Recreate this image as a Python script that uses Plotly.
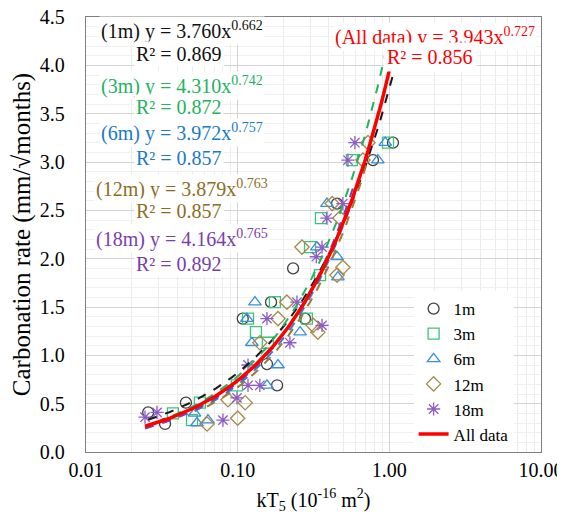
import numpy as np
import plotly.graph_objects as go

# kT5 (10^-16 m2) against carbonation rate
x_1m = [0.0257, 0.0332, 0.0456, 0.108, 0.166, 0.156, 0.182, 0.278, 0.232, 0.452, 0.78, 1.057]
y_1m = [0.41, 0.29, 0.51, 1.38, 1.55, 0.91, 0.69, 1.38, 1.90, 2.57, 3.02, 3.20]

x_3m = [0.0374, 0.050, 0.0564, 0.099, 0.117, 0.132, 0.176, 0.158, 0.286, 0.300, 0.354, 0.349, 0.5665, 0.98]
y_3m = [0.40, 0.33, 0.51, 0.69, 1.38, 1.24, 1.55, 1.13, 1.38, 2.12, 2.42, 1.83, 3.02, 3.20]

x_6m = [0.052, 0.0637, 0.0539, 0.124, 0.115, 0.130, 0.156, 0.1845, 0.258, 0.333, 0.452, 0.458, 0.388, 0.84, 0.94]
y_6m = [0.40, 0.33, 0.30, 1.13, 1.38, 1.55, 0.69, 0.90, 1.24, 2.12, 2.02, 1.81, 2.57, 3.02, 3.20]

x_12m = [0.0628, 0.100, 0.112, 0.0863, 0.140, 0.1845, 0.211, 0.338, 0.315, 0.2655, 0.494, 0.452, 0.42, 0.472, 0.67, 0.723]
y_12m = [0.29, 0.35, 0.51, 0.54, 1.13, 1.38, 1.55, 1.24, 1.31, 2.12, 1.91, 1.83, 2.57, 2.42, 3.02, 3.20]

x_18m = [0.0245, 0.0294, 0.080, 0.099, 0.117, 0.117, 0.140, 0.156, 0.246, 0.221, 0.36, 0.36, 0.33, 0.388, 0.494, 0.5335, 0.593]
y_18m = [0.36, 0.41, 0.33, 0.56, 0.90, 0.69, 0.69, 1.38, 1.55, 1.13, 1.31, 2.12, 2.02, 2.42, 2.57, 3.02, 3.20]

series_names = ["1m", "3m", "6m", "12m", "18m"]
series_x = [x_1m, x_3m, x_6m, x_12m, x_18m]
series_y = [y_1m, y_3m, y_6m, y_12m, y_18m]

# power-law trendlines y = a * x^b as printed on the chart
fit_a = [3.760, 4.310, 3.972, 3.879, 4.164]
fit_b = [0.662, 0.742, 0.757, 0.763, 0.765]
fit_r2 = [0.869, 0.872, 0.857, 0.857, 0.892]
all_a, all_b, all_r2 = 3.943, 0.727, 0.856

symbols = ["circle-open", "square-open", "triangle-up-open", "diamond-open", "asterisk-open"]
marker_colors = ["#404040", "#3cc47c", "#3a8fd9", "#a8884a", "#8d5cc4"]
line_colors = ["#1a1a1a", "#22b35e", "#2f7fd0", "#9a7b35", "#7a3db0"]
text_colors = ["#111111", "#22b35e", "#2079c7", "#8c6d1f", "#7a3db0"]

FONT = "Liberation Serif, Times New Roman, serif"

fig = go.Figure()

for name, xs, ys, sym, col in zip(series_names, series_x, series_y, symbols, marker_colors):
    fig.add_trace(go.Scatter(
        x=xs, y=ys, mode="markers", name=name,
        marker=dict(symbol=sym, size=11, color=col, line=dict(width=1.3, color=col)),
    ))

for xs, a, b, col in zip(series_x, fit_a, fit_b, line_colors):
    xf = np.geomspace(min(xs), max(xs), 80)
    fig.add_trace(go.Scatter(
        x=xf, y=a * xf ** b, mode="lines", showlegend=False,
        line=dict(color=col, width=2, dash="dash"),
    ))

all_x = np.concatenate([np.array(v) for v in series_x])
xf = np.geomspace(all_x.min(), all_x.max(), 80)
fig.add_trace(go.Scatter(
    x=xf, y=all_a * xf ** all_b, mode="lines", name="All data",
    line=dict(color="#ff0000", width=3.5),
))

# equation labels (left column)
eq_y = [0.968, 0.842, 0.735, 0.605, 0.490]
r2_y = [0.914, 0.794, 0.675, 0.554, 0.432]
for name, a, b, r2, col, ye, yr in zip(series_names, fit_a, fit_b, fit_r2, text_colors, eq_y, r2_y):
    fig.add_annotation(
        x=0.211, y=ye, xref="paper", yref="paper", showarrow=False,
        xanchor="center", yanchor="middle",
        text=f"({name}) y = {a:.3f}x<sup>{b:.3f}</sup>",
        font=dict(family=FONT, size=20, color=col), bgcolor="white", borderpad=1,
    )
    fig.add_annotation(
        x=0.205, y=yr, xref="paper", yref="paper", showarrow=False,
        xanchor="center", yanchor="middle",
        text=f"R² = {r2:.3f}",
        font=dict(family=FONT, size=20, color=col), bgcolor="white", borderpad=1,
    )

fig.add_annotation(
    x=0.767, y=0.955, xref="paper", yref="paper", showarrow=False,
    xanchor="center", yanchor="middle",
    text=f"(All data) y = {all_a:.3f}x<sup>{all_b:.3f}</sup>",
    font=dict(family=FONT, size=20, color="#ff0000"), bgcolor="white", borderpad=1,
)
fig.add_annotation(
    x=0.757, y=0.908, xref="paper", yref="paper", showarrow=False,
    xanchor="center", yanchor="middle",
    text=f"R² = {all_r2:.3f}",
    font=dict(family=FONT, size=20, color="#ff0000"), bgcolor="white", borderpad=3,
)

# the page body adds an 8px margin, so the figure is drawn 8px smaller than the window
fig.update_layout(
    width=557, height=513, autosize=False,
    margin=dict(l=78, r=24, t=9, b=69),
    plot_bgcolor="white", paper_bgcolor="white",
    font=dict(family=FONT, size=20, color="black"),
    legend=dict(
        x=0.72, y=0.37, xanchor="left", yanchor="top",
        bgcolor="white", font=dict(family=FONT, size=17),
        itemwidth=30, tracegroupgap=0,
    ),
    xaxis=dict(
        type="log", range=[-2, 1], dtick=1, tickformat=".2f",
        showgrid=True, gridcolor="#d4d4d4", gridwidth=1,
        minor=dict(dtick="D1", showgrid=True, gridcolor="#ececec"),
        showline=True, mirror=True, linecolor="#7f7f7f", linewidth=1.3,
        zeroline=False, ticks="", automargin=False, ticklabeloverflow="allow",
        title=dict(text="kT<sub>5</sub> (10<sup>-16</sup> m<sup>2</sup>)", font=dict(size=20), standoff=12),
        tickfont=dict(size=20),
    ),
    yaxis=dict(
        range=[0, 4.5], dtick=0.5, tickformat=".1f",
        showgrid=True, gridcolor="#d4d4d4", gridwidth=1,
        minor=dict(dtick=0.1, showgrid=True, gridcolor="#f0f0f0"),
        showline=True, mirror=True, linecolor="#7f7f7f", linewidth=1.3,
        zeroline=False, ticks="", ticklabelstandoff=16, automargin=False,
        ticklabeloverflow="allow",
        title=dict(text="Carbonation rate (mm/√months)", font=dict(size=25), standoff=2),
        tickfont=dict(size=20),
    ),
)

fig.write_html("out.html")
